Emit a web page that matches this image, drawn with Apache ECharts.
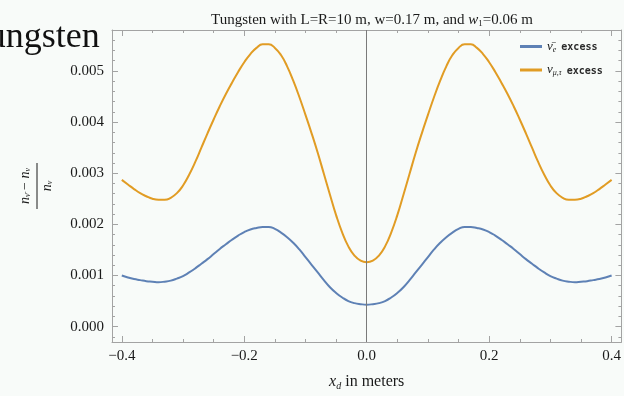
<!DOCTYPE html>
<html>
<head>
<meta charset="utf-8">
<script src="https://cdn.jsdelivr.net/npm/echarts@6/dist/echarts.min.js"></script>
<style>
	html, body { margin: 0; padding: 0; background: #f8fbf9; }
	#chart { width: 624px; height: 396px; }
</style>
</head>
<body>
<div id="chart"></div>
<script>
const xValues = [
	-0.40, -0.39, -0.38, -0.37, -0.36, -0.35, -0.34, -0.33, -0.32, -0.31,
	-0.30, -0.29, -0.28, -0.27, -0.26, -0.25, -0.24, -0.23, -0.22, -0.21,
	-0.20, -0.19, -0.18, -0.17, -0.16, -0.15, -0.14, -0.13, -0.12, -0.11,
	-0.10, -0.09, -0.08, -0.07, -0.06, -0.05, -0.04, -0.03, -0.02, -0.01,
	0.00,
	0.01, 0.02, 0.03, 0.04, 0.05, 0.06, 0.07, 0.08, 0.09, 0.10,
	0.11, 0.12, 0.13, 0.14, 0.15, 0.16, 0.17, 0.18, 0.19, 0.20,
	0.21, 0.22, 0.23, 0.24, 0.25, 0.26, 0.27, 0.28, 0.29, 0.30,
	0.31, 0.32, 0.33, 0.34, 0.35, 0.36, 0.37, 0.38, 0.39, 0.40,
]
const antiNuE = [
	0.00100, 0.00096, 0.00093, 0.00091, 0.00089, 0.00088, 0.00087, 0.00088, 0.00090, 0.00094,
	0.00099, 0.00106, 0.00114, 0.00123, 0.00132, 0.00142, 0.00152, 0.00161, 0.00170, 0.00178,
	0.00185, 0.00190, 0.00193, 0.00195, 0.00195, 0.00191, 0.00184, 0.00175, 0.00164, 0.00151,
	0.00136, 0.00121, 0.00106, 0.00091, 0.00077, 0.00066, 0.00057, 0.00050, 0.00046, 0.00044,
	0.00043,
	0.00044, 0.00046, 0.00050, 0.00057, 0.00066, 0.00077, 0.00091, 0.00106, 0.00121, 0.00136,
	0.00151, 0.00164, 0.00175, 0.00184, 0.00191, 0.00195, 0.00195, 0.00193, 0.00190, 0.00185,
	0.00178, 0.00170, 0.00161, 0.00152, 0.00142, 0.00132, 0.00123, 0.00114, 0.00106, 0.00099,
	0.00094, 0.00090, 0.00088, 0.00087, 0.00088, 0.00089, 0.00091, 0.00093, 0.00096, 0.00100,
]
const nuMuTau = [
	0.00287, 0.00278, 0.00269, 0.00261, 0.00255, 0.00250, 0.00248, 0.00248, 0.00252, 0.00261,
	0.00276, 0.00297, 0.00322, 0.00350, 0.00378, 0.00405, 0.00431, 0.00455, 0.00477, 0.00498,
	0.00517, 0.00533, 0.00545, 0.00552, 0.00552, 0.00545, 0.00531, 0.00509, 0.00481, 0.00449,
	0.00414, 0.00378, 0.00340, 0.00299, 0.00258, 0.00218, 0.00184, 0.00157, 0.00139, 0.00129,
	0.00126,
	0.00129, 0.00139, 0.00157, 0.00184, 0.00218, 0.00258, 0.00299, 0.00340, 0.00378, 0.00414,
	0.00449, 0.00481, 0.00509, 0.00531, 0.00545, 0.00552, 0.00552, 0.00545, 0.00533, 0.00517,
	0.00498, 0.00477, 0.00455, 0.00431, 0.00405, 0.00378, 0.00350, 0.00322, 0.00297, 0.00276,
	0.00261, 0.00252, 0.00248, 0.00248, 0.00250, 0.00255, 0.00261, 0.00269, 0.00278, 0.00287,
]
const xMajorTicks = [-0.4, -0.2, 0, 0.2, 0.4]
const xMinorTicks = [-0.35, -0.3, -0.25, -0.15, -0.1, -0.05, 0.05, 0.1, 0.15, 0.25, 0.3, 0.35]
const yMajorTicks = [0, 0.001, 0.002, 0.003, 0.004, 0.005]
const yMinorTicks = [
	-0.0002, 0.0002, 0.0004, 0.0006, 0.0008, 0.0012, 0.0014, 0.0016, 0.0018,
	0.0022, 0.0024, 0.0026, 0.0028, 0.0032, 0.0034, 0.0036, 0.0038,
	0.0042, 0.0044, 0.0046, 0.0048, 0.0052, 0.0054, 0.0056,
]

const serif = 'Liberation Serif'
const ink = '#1a1a1a'
const frameColor = '#a3a3a3'
const xRange = { min: -0.416, max: 0.416 }
const yRange = { min: -0.0003, max: 0.0058 }

const fmtX = (v) => (v < 0 ? '\u2212' : '') + Math.abs(v).toFixed(1)
const fmtY = (v) => v.toFixed(3)

// one axis per side for major ticks and one more for the shorter minor ticks
const makeAxis = (kind, position, ticks, len, withLabels) => ({
	type: 'value',
	position,
	...(kind === 'x' ? xRange : yRange),
	axisLine: { show: len > 4, onZero: false, lineStyle: { color: frameColor, width: 1 } },
	axisTick: { show: true, inside: true, length: len, customValues: ticks, lineStyle: { color: frameColor } },
	axisLabel: {
		show: withLabels,
		customValues: ticks,
		formatter: kind === 'x' ? fmtX : fmtY,
		fontFamily: serif,
		fontSize: 15,
		color: ink,
		margin: kind === 'x' ? 7 : 8,
	},
	splitLine: { show: false },
})

const xAxisMain = makeAxis('x', 'bottom', xMajorTicks, 6, true)
xAxisMain.name = '{i|x}{s|d}{n| in meters}'
xAxisMain.nameLocation = 'middle'
xAxisMain.nameGap = 31
xAxisMain.nameTextStyle = {
	rich: {
		i: { fontFamily: serif, fontStyle: 'italic', fontSize: 16, color: ink },
		s: { fontFamily: serif, fontStyle: 'italic', fontSize: 10, color: ink, padding: [8, 0, 0, 0] },
		n: { fontFamily: serif, fontSize: 16, color: ink },
	},
}

const legendRich = {
	g: { fontFamily: serif, fontStyle: 'italic', fontSize: 13, color: ink },
	s: { fontFamily: serif, fontStyle: 'italic', fontSize: 8, color: ink, padding: [6, 0, 0, 0] },
	t: { fontFamily: 'DejaVu Sans Mono', fontWeight: 'bold', fontSize: 10, color: '#2a2a2a', padding: [2, 0, 0, 5] },
}

const chart = echarts.init(document.getElementById('chart'), null, { renderer: 'canvas' })

chart.setOption({
	backgroundColor: '#f8fbf9',
	animation: false,
	grid: { left: 112, right: 2, top: 30, bottom: 54 },
	title: {
		text: '{n|Tungsten with L=R=10 m, w=0.17 m, and }{i|w}{s|1}{n|=0.06 m}',
		left: 367,
		textAlign: 'center',
		top: 7,
		textStyle: {
			rich: {
				n: { fontFamily: serif, fontWeight: 'normal', fontSize: 15, color: ink },
				i: { fontFamily: serif, fontWeight: 'normal', fontStyle: 'italic', fontSize: 15, color: ink },
				s: { fontFamily: serif, fontWeight: 'normal', fontSize: 9, color: ink, padding: [7, 0, 0, 0] },
			},
		},
	},
	legend: {
		orient: 'vertical',
		left: 515,
		top: 35,
		itemWidth: 22,
		itemHeight: 3,
		itemGap: 10,
		icon: 'rect',
		formatter: (name) => (name.startsWith('ν̄')
			? '{g|ν̄}{s|e}{t|excess}'
			: '{g|ν}{s|μ,τ}{t|excess}'),
		textStyle: { rich: legendRich },
	},
	xAxis: [
		xAxisMain,
		makeAxis('x', 'bottom', xMinorTicks, 3, false),
		makeAxis('x', 'top', xMajorTicks, 6, false),
		makeAxis('x', 'top', xMinorTicks, 3, false),
	],
	yAxis: [
		makeAxis('y', 'left', yMajorTicks, 6, true),
		makeAxis('y', 'left', yMinorTicks, 3, false),
		makeAxis('y', 'right', yMajorTicks, 6, false),
		makeAxis('y', 'right', yMinorTicks, 3, false),
	],
	graphic: [
		{
			type: 'text',
			left: -33,
			top: 20,
			style: { text: 'Tungsten', font: '36px "Liberation Serif"', fill: '#111' },
		},
		{
			// rotated fraction used as the y axis title
			type: 'group',
			x: 37,
			y: 186,
			rotation: Math.PI / 2,
			children: [
				{
					type: 'text',
					x: 0,
					y: -5,
					style: {
						text: '{i|n}{s|ν̄}{n| − }{i|n}{s|ν}',
						align: 'center',
						verticalAlign: 'bottom',
						rich: {
							i: { fontFamily: serif, fontStyle: 'italic', fontSize: 14, fill: ink },
							s: { fontFamily: serif, fontStyle: 'italic', fontSize: 8, fill: ink, padding: [6, 0, 0, 0] },
							n: { fontFamily: serif, fontSize: 14, fill: ink },
						},
					},
				},
				{
					type: 'line',
					shape: { x1: -23, y1: 0, x2: 23, y2: 0 },
					style: { stroke: ink, lineWidth: 1 },
				},
				{
					type: 'text',
					x: 0,
					y: 3,
					style: {
						text: '{i|n}{s|ν}',
						align: 'center',
						verticalAlign: 'top',
						rich: {
							i: { fontFamily: serif, fontStyle: 'italic', fontSize: 14, fill: ink },
							s: { fontFamily: serif, fontStyle: 'italic', fontSize: 8, fill: ink, padding: [6, 0, 0, 0] },
						},
					},
				},
			],
		},
	],
	series: [
		{
			name: 'ν̄e excess',
			type: 'line',
			data: xValues.map((x, i) => [x, antiNuE[i]]),
			smooth: 0.5,
			showSymbol: false,
			color: '#5e81b5',
			lineStyle: { width: 2 },
			markLine: {
				silent: true,
				symbol: ['none', 'none'],
				label: { show: false },
				lineStyle: { color: '#7a7a7a', width: 1, type: 'solid' },
				data: [{ xAxis: 0 }],
			},
		},
		{
			name: 'νμ,τ excess',
			type: 'line',
			data: xValues.map((x, i) => [x, nuMuTau[i]]),
			smooth: 0.5,
			showSymbol: false,
			color: '#e19c24',
			lineStyle: { width: 2 },
		},
	],
})
</script>
</body>
</html>
